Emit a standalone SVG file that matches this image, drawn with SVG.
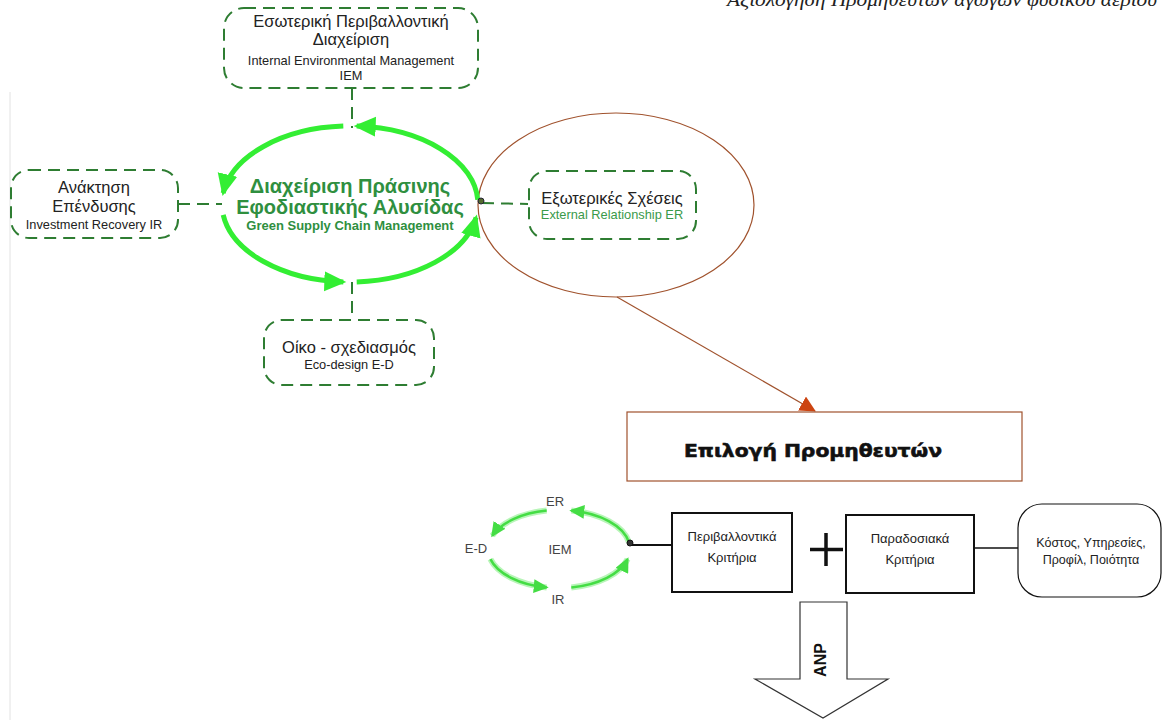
<svg xmlns="http://www.w3.org/2000/svg" width="1163" height="720" viewBox="0 0 1163 720">
  <defs>
    <style>
      .dash { fill: #ffffff; stroke: #2e7d32; stroke-width: 2; stroke-dasharray: 12 7; }
      .dline { fill: none; stroke: #2e7d32; stroke-width: 2; stroke-dasharray: 12 7; }
      .t { font-family: "Liberation Sans", Arial, sans-serif; fill: #222; text-anchor: middle; }
      .big { font-size: 16.5px; }
      .small { font-size: 12.8px; }
      .gs { fill: #2f8f3f; font-weight: bold; }
      .cyc { fill: none; stroke: #33ee33; stroke-width: 5; marker-end: url(#gArrow); }
      .cyc2 { fill: none; stroke: #44dd44; stroke-width: 2.5; marker-end: url(#gArrowSm); }
      .glow { fill: none; stroke: #b8f5b8; stroke-width: 6; }
      .box { fill: #ffffff; stroke: #111; stroke-width: 2; }
      .lbl { font-size: 13px; fill: #444; }
    </style>
    <marker id="gArrow" markerUnits="userSpaceOnUse" markerWidth="24" markerHeight="22" refX="19" refY="11" orient="auto">
      <path d="M0,1 L22,11 L0,21 z" fill="#33ee33"/>
    </marker>
    <marker id="gArrowSm" markerUnits="userSpaceOnUse" markerWidth="16" markerHeight="14" refX="13" refY="7" orient="auto">
      <path d="M0,0 L15,7 L0,14 z" fill="#44dd44"/>
    </marker>
    <marker id="bArrow" markerUnits="userSpaceOnUse" markerWidth="18" markerHeight="16" refX="15" refY="8" orient="auto">
      <path d="M0,0 L16,8 L0,16 z" fill="#cc4411"/>
    </marker>
  </defs>

  <rect x="0" y="0" width="1163" height="720" fill="#ffffff"/>

  <!-- page margin line -->
  <line x1="10" y1="92" x2="10" y2="720" stroke="#e2e2e2" stroke-width="1"/>

  <!-- running header -->
  <text x="1157" y="6" font-family="'Liberation Serif', 'Times New Roman', serif" font-style="italic" font-size="18" fill="#222" text-anchor="end" textLength="430" lengthAdjust="spacingAndGlyphs">Αξιολόγηση Προμηθευτών αγωγών φυσικού αερίου</text>

  <!-- connectors -->
  <g id="connectors">
    <line class="dline" x1="352" y1="88" x2="352" y2="128"/>
    <line class="dline" x1="178" y1="204" x2="222" y2="204"/>
    <line class="dline" x1="352" y1="282" x2="352" y2="320"/>
    <line class="dline" x1="482" y1="203" x2="528" y2="204"/>
    <line x1="617" y1="297" x2="815" y2="411" stroke="#a0522d" stroke-width="1.2" marker-end="url(#bArrow)"/>
    <line x1="631" y1="545" x2="672" y2="545" stroke="#111" stroke-width="2"/>
    <line x1="974" y1="548" x2="1018" y2="548" stroke="#111" stroke-width="1.5"/>
  </g>

  <!-- external relationship scope -->
  <g id="er-scope">
    <ellipse cx="616" cy="205" rx="138" ry="92" fill="none" stroke="#a0522d" stroke-width="1.2"/>
  </g>

  <!-- green supply chain cycle -->
  <g id="gscm">
    <path class="cyc" d="M477.8,199.9 A128,78 0 0 0 356.7,126.1"/>
    <path class="cyc" d="M343.3,126.1 A128,78 0 0 0 223.2,193.1"/>
    <path class="cyc" d="M223.2,214.9 A128,78 0 0 0 343.3,281.9"/>
    <path class="cyc" d="M356.7,281.9 A128,78 0 0 0 476.1,217.5"/>
    <circle cx="481" cy="201" r="3" fill="#556b2f" stroke="#223" stroke-width="1"/>
    <text class="t gs" x="350" y="193" font-size="20">Διαχείριση Πράσινης</text>
    <text class="t gs" x="350" y="214" font-size="20">Εφοδιαστικής Αλυσίδας</text>
    <text class="t gs" x="350" y="230" font-size="13">Green Supply Chain Management</text>
  </g>

  <g id="iem">
    <rect class="dash" x="224" y="8" width="254" height="80" rx="20"/>
    <text class="t big" x="351" y="27">Εσωτερική Περιβαλλοντική</text>
    <text class="t big" x="351" y="45">Διαχείριση</text>
    <text class="t small" x="351" y="65">Internal Environmental Management</text>
    <text class="t small" x="351" y="80">IEM</text>
  </g>

  <g id="ir">
    <rect class="dash" x="11" y="170" width="167" height="68" rx="18"/>
    <text class="t big" x="94" y="193">Ανάκτηση</text>
    <text class="t big" x="94" y="212">Επένδυσης</text>
    <text class="t small" x="94" y="229">Investment Recovery IR</text>
  </g>

  <g id="er">
    <rect class="dash" x="529" y="171" width="167" height="68" rx="18"/>
    <text class="t big" x="612" y="204">Εξωτερικές Σχέσεις</text>
    <text class="t small" x="612" y="219" style="fill:#3a9a4a">External Relationship ER</text>
  </g>

  <g id="ed">
    <rect class="dash" x="264" y="320" width="170" height="65" rx="18"/>
    <text class="t big" x="349" y="353">Οίκο - σχεδιασμός</text>
    <text class="t small" x="349" y="369">Eco-design E-D</text>
  </g>

  <g id="supplier-selection">
    <rect x="627" y="412" width="395" height="69" fill="#ffffff" stroke="#a0522d" stroke-width="1.2"/>
    <text x="813" y="457" font-family="'DejaVu Sans', sans-serif" font-weight="900" font-size="18" fill="#111" stroke="#111" stroke-width="0.6" text-anchor="middle" textLength="258" lengthAdjust="spacingAndGlyphs">Επιλογή Προμηθευτών</text>
  </g>

  <!-- small criteria cycle -->
  <g id="mini-cycle">
    <path class="glow" d="M628.9,542.2 A71,39 0 0 0 571.3,510.6"/>
    <path class="glow" d="M546.7,510.6 A71,39 0 0 0 492.3,535.7"/>
    <path class="glow" d="M490.4,559.1 A71,39 0 0 0 546.7,587.4"/>
    <path class="glow" d="M571.3,587.4 A71,39 0 0 0 627.6,559.1"/>
    <path class="cyc2" d="M628.9,542.2 A71,39 0 0 0 571.3,510.6"/>
    <path class="cyc2" d="M546.7,510.6 A71,39 0 0 0 492.3,535.7"/>
    <path class="cyc2" d="M490.4,559.1 A71,39 0 0 0 546.7,587.4"/>
    <path class="cyc2" d="M571.3,587.4 A71,39 0 0 0 627.6,559.1"/>
    <circle cx="630" cy="543" r="3" fill="#333" stroke="#111" stroke-width="1"/>
    <text class="t lbl" x="555" y="506" style="fill:#444">ER</text>
    <text class="t lbl" x="476" y="553" style="fill:#444">E-D</text>
    <text class="t lbl" x="560" y="554" style="fill:#444">IEM</text>
    <text class="t lbl" x="558" y="604" style="fill:#444">IR</text>
  </g>

  <g id="env-criteria">
    <rect class="box" x="672" y="513" width="120" height="79"/>
    <text class="t" x="732" y="541" font-size="13">Περιβαλλοντικά</text>
    <text class="t" x="732" y="562" font-size="13">Κριτήρια</text>
  </g>

  <g id="plus">
    <path d="M826,533 V566 M810,549.5 H843" stroke="#111" stroke-width="3.5" fill="none"/>
  </g>

  <g id="trad-criteria">
    <rect class="box" x="846" y="515" width="128" height="78"/>
    <text class="t" x="910" y="543" font-size="13">Παραδοσιακά</text>
    <text class="t" x="910" y="564" font-size="13">Κριτήρια</text>
  </g>

  <g id="trad-list">
    <rect x="1018" y="504" width="143" height="93" rx="24" fill="#ffffff" stroke="#111" stroke-width="1.2"/>
    <text class="t" x="1091" y="547" font-size="12.5">Κόστος, Υπηρεσίες,</text>
    <text class="t" x="1091" y="564" font-size="12.5">Προφίλ, Ποιότητα</text>
  </g>

  <g id="anp">
    <path d="M800,602 H847 V679 H888 L823,718 L755,679 H800 Z" fill="#ffffff" stroke="#333" stroke-width="1.2"/>
    <text x="826" y="660" font-family="'Liberation Sans', Arial, sans-serif" font-weight="bold" font-size="16" fill="#111" text-anchor="middle" transform="rotate(-90 826 660)">ANP</text>
  </g>
</svg>
